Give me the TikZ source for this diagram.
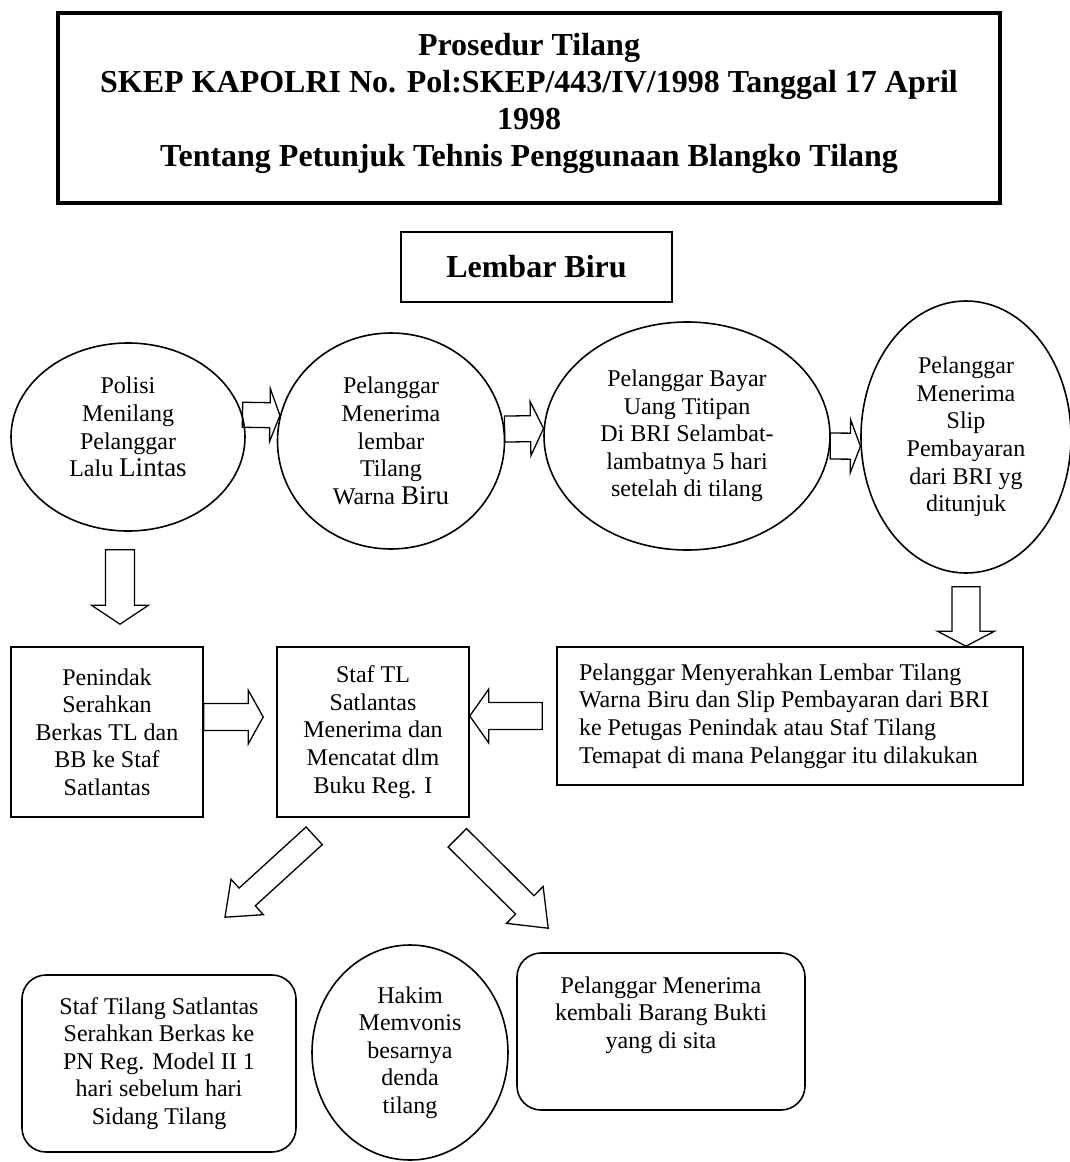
\documentclass[tikz,border=0pt]{standalone}
\usepackage{fontspec}
\setmainfont{Liberation Serif}
\usetikzlibrary{shapes.geometric,calc}
\tikzset{
	txt/.style={font=\fontsize{24}{27.6}\selectfont, align=center},
	oval/.style={txt, ellipse, draw, line width=1.6pt, inner sep=0pt},
	rect/.style={txt, rectangle, draw, line width=1.6pt, inner sep=0pt},
	roundrect/.style={rect, rounded corners=24pt},
	shaftw/.store in=\shaftw, headw/.store in=\headw, headl/.store in=\headl,
	shaftw=13.5, headw=27, headl=15,
	hollow/.style={line width=1.3pt, to path={
		let \p1=(\tikztostart), \p2=(\tikztotarget),
			\n1={atan2(\y2-\y1,\x2-\x1)}, \n2={veclen(\x2-\x1,\y2-\y1)-\headl}
		in ($(\p1)+(\n1+90:\shaftw pt)$) -- ($(\p1)+(\n1:\n2)+(\n1+90:\shaftw pt)$)
		-- ($(\p1)+(\n1:\n2)+(\n1+90:\headw pt)$) -- (\p2)
		-- ($(\p1)+(\n1:\n2)+(\n1-90:\headw pt)$) -- ($(\p1)+(\n1:\n2)+(\n1-90:\shaftw pt)$)
		-- ($(\p1)+(\n1-90:\shaftw pt)$) -- cycle}},
}
\begin{document}
\begin{tikzpicture}[x=1pt, y=-1pt]
	\useasboundingbox (0,0) rectangle (1070,1162);

	\node[rect, line width=4pt, minimum width=942pt, minimum height=190pt, text depth=17pt,
		font=\bfseries\fontsize{32}{37}\selectfont] (title) at (529,108)
		{Prosedur Tilang\\SKEP KAPOLRI No. Pol:SKEP/443/IV/1998 Tanggal 17 April\\1998\\Tentang Petunjuk Tehnis Penggunaan Blangko Tilang};
	\node[rect, line width=1.5pt, minimum width=271pt, minimum height=70pt,
		font=\bfseries\fontsize{32}{37}\selectfont] (lembar) at (536.5,267) {Lembar Biru};

	\node[oval, minimum width=234pt, minimum height=188pt, text depth=20pt] (polisi) at (128,437)
		{Polisi\\Menilang\\Pelanggar\\Lalu {\fontsize{27}{27.6}\selectfont Lintas}};
	\node[oval, minimum width=227pt, minimum height=216pt] (terima) at (391,441)
		{Pelanggar\\Menerima\\lembar\\Tilang\\Warna {\fontsize{27}{27.6}\selectfont Biru}};
	\node[oval, minimum width=286pt, minimum height=228pt] (bayar) at (687,436)
		{Pelanggar Bayar\\Uang Titipan\\Di BRI Selambat-\\lambatnya 5 hari\\setelah di tilang};
	\node[oval, minimum width=210pt, minimum height=272pt] (slip) at (966,437)
		{Pelanggar\\Menerima\\Slip\\Pembayaran\\dari BRI yg\\ditunjuk};

	\node[rect, minimum width=192pt, minimum height=170pt] (penindak) at (107,732)
		{Penindak\\Serahkan\\Berkas TL dan\\BB ke Staf\\Satlantas};
	\node[rect, minimum width=192pt, minimum height=170pt] (staf) at (373,732)
		{Staf TL\\Satlantas\\Menerima dan\\Mencatat dlm\\Buku Reg. I};
	\node[rect, minimum width=466pt, minimum height=138pt, text width=422pt,
		inner xsep=22pt, align=flush left] (serah) at (790,716)
		{Pelanggar Menyerahkan Lembar Tilang\\Warna Biru dan Slip Pembayaran dari BRI\\ke Petugas Penindak atau Staf Tilang\\Temapat di mana Pelanggar itu dilakukan};

	\node[roundrect, minimum width=274pt, minimum height=177pt] (berkas) at (159,1063.5)
		{Staf Tilang Satlantas\\Serahkan Berkas ke\\PN Reg. Model II 1\\hari sebelum hari\\Sidang Tilang};
	\node[oval, minimum width=196pt, minimum height=215pt] (hakim) at (410,1052.5)
		{Hakim\\Memvonis\\besarnya\\denda\\tilang};
	\node[roundrect, minimum width=288pt, minimum height=157pt] (bukti) at (661,1031.5) {};
	\node[txt, anchor=north, inner sep=0pt] (buktitxt) at ($(bukti.north)+(0,24)$)
		{Pelanggar Menerima\\kembali Barang Bukti\\yang di sita};

	% block arrows
	\draw[hollow, shaftw=12.5, headw=26.5, headl=10] (polisi.11) to (terima.167);
	\draw[hollow, shaftw=13, headw=27, headl=13] (terima.6) to (bayar.177);
	\draw[hollow, shaftw=13, headw=26.5, headl=10] (bayar.356) to (slip.185);
	\draw[hollow, shaftw=14.5, headw=28.5, headl=19] ($(polisi.south)+(-8,18)$) to ($(penindak.north)+(13,-22)$);
	\draw[hollow, shaftw=14, headw=28.5, headl=15] ($(slip.south)+(0,13)$) to (serah.north -| slip.south);
	\draw[hollow] ($(penindak.east)+(0,-15)$) to ($(staf.west)+(-13,-15)$);
	\draw[hollow, headl=19] ($(serah.west)+(-14,0)$) to (staf.east |- serah.west);
	\draw[hollow, shaftw=12, headw=24, headl=30] ($(staf.south west)+(38,18)$) to ($(berkas.north)+(66,-57)$);
	\draw[hollow, shaftw=13, headw=26, headl=33] ($(staf.south east)+(-12.5,20)$) to ($(bukti.north west)+(32,-24)$);
\end{tikzpicture}
\end{document}
